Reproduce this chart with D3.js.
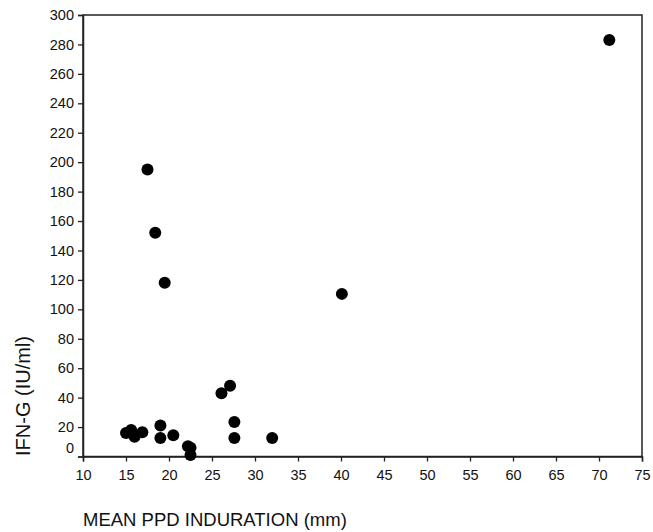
<!DOCTYPE html>
<html><head><meta charset="utf-8">
<script src="https://cdn.jsdelivr.net/npm/d3@7"></script>
<style>body{margin:0;background:#fff}svg{display:block}</style>
</head><body>
<svg id="c" width="653" height="532"></svg>
<script>
const xVals = [15.0, 15.6, 16.0, 16.9, 19.0, 19.0, 20.5, 22.2, 22.5, 22.5, 26.1, 27.1, 27.6, 27.6, 32.0, 17.5, 18.4, 19.5, 40.1, 71.2];
const yVals = [16, 18, 13.5, 16.5, 21, 12.5, 14.5, 7, 6, 1, 43, 48, 23.5, 12.5, 12.5, 195, 152, 118, 110.5, 283];
const xTicks = [10,15,20,25,30,35,40,45,50,55,60,65,70,75];
const yTicks = [0,20,40,60,80,100,120,140,160,180,200,220,240,260,280,300];
const xTitle = "MEAN PPD INDURATION (mm)";
const yTitle = "IFN-G (IU/ml)";

const svg = d3.select("#c");
const L = 83, R = 642, T = 15, B = 456.5;
const x = d3.scaleLinear().domain([10,75]).range([L,R]);
const y = d3.scaleLinear().domain([0,300]).range([B,T]);
const font = "Arial, 'Liberation Sans', sans-serif";

// frame
svg.append("rect").attr("x",L).attr("y",T).attr("width",R-L).attr("height",B-T)
  .attr("fill","none").attr("stroke","#222").attr("stroke-width",1.5);

const gx = svg.append("g").attr("transform",`translate(0,${B})`)
  .call(d3.axisBottom(x).tickValues(xTicks).tickSize(5).tickPadding(8).tickFormat(d3.format("d")));
const gy = svg.append("g").attr("transform",`translate(${L},0)`)
  .call(d3.axisLeft(y).tickValues(yTicks).tickSize(5).tickPadding(4).tickFormat(d3.format("d")));
[gx,gy].forEach(g=>{
  g.select(".domain").attr("stroke","#222").attr("stroke-width",1.5);
  g.selectAll(".tick line").attr("stroke","#222").attr("stroke-width",1.3);
  g.selectAll("text").attr("font-family",font).attr("font-size",14.5).attr("fill","#111");
});
gy.selectAll(".tick").filter(d=>d===0).select("text").attr("dy","-0.25em");

svg.append("g").selectAll("circle").data(xVals.map((v,i)=>[v,yVals[i]])).join("circle")
  .attr("cx",d=>x(d[0])).attr("cy",d=>y(d[1])).attr("r",6).attr("fill","#000");

svg.append("text").attr("x",L).attr("y",526).attr("font-family",font).attr("font-size",18.5)
  .attr("fill","#111").text(xTitle);
svg.append("text").attr("transform","translate(30,396) rotate(-90)").attr("text-anchor","middle")
  .attr("font-family",font).attr("font-size",20).attr("fill","#111").text(yTitle);
</script>
</body></html>
